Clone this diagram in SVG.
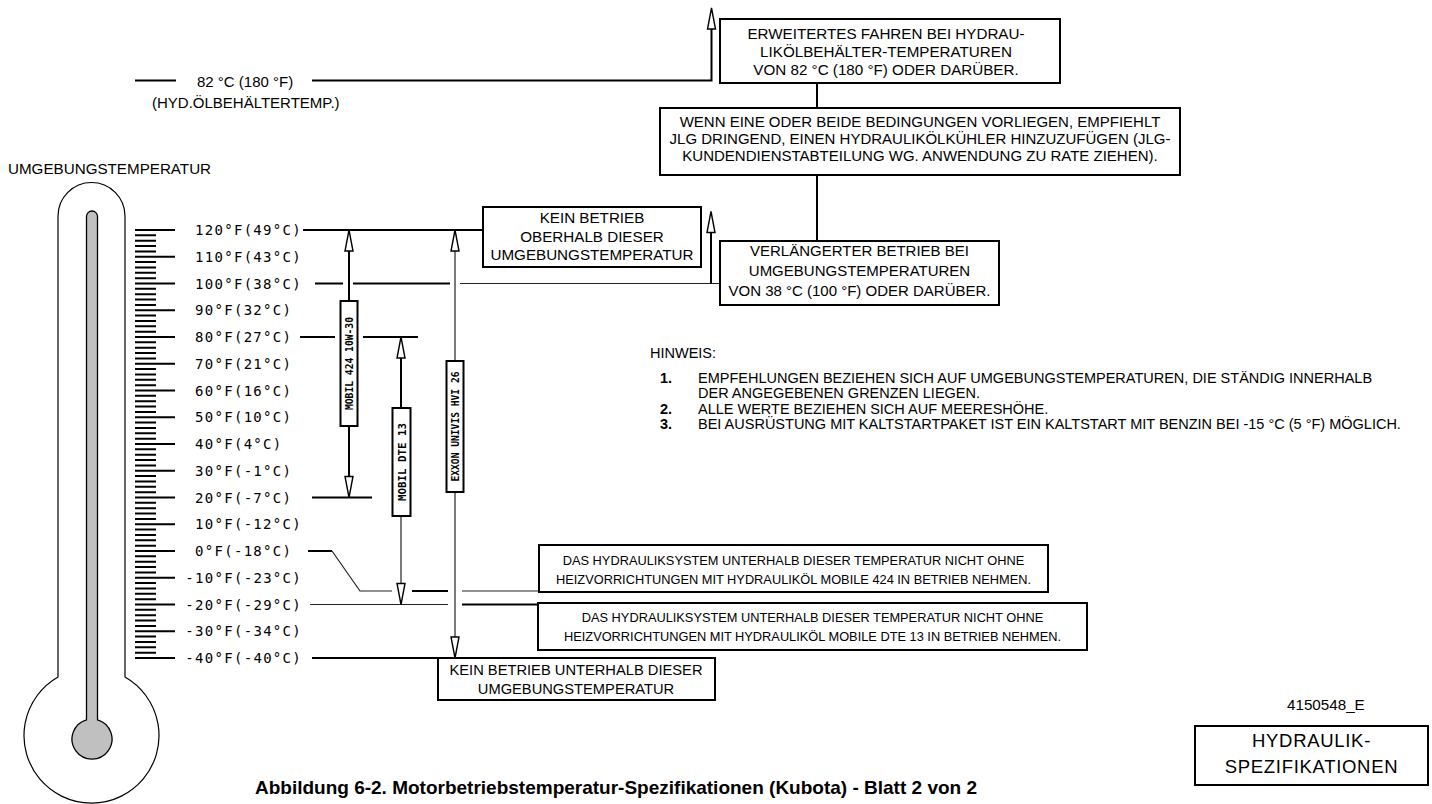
<svg xmlns="http://www.w3.org/2000/svg" width="1432" height="804" viewBox="0 0 1432 804">
<style>
  text { font-family: "Liberation Sans", Arial, Helvetica, sans-serif; fill: #000; }
  .c { text-anchor: middle; }
  .f15 { font-size: 15px; }
  .f13 { font-size: 12.8px; }
  .note { font-size: 14.5px; }
  .num { font-weight: bold; }
  .title { font-size: 19px; font-weight: bold; text-anchor: middle; }
  .big { font-size: 18.5px; letter-spacing: 0.7px; text-anchor: middle; }
  .sc { font-family: "DejaVu Sans Mono", monospace; font-size: 14px; letter-spacing: 1.3px; }
  .oil { font-family: "DejaVu Sans Mono", monospace; font-size: 11px; font-weight: bold; text-anchor: middle; }
  .box { fill: #fff; stroke: #000; stroke-width: 2; }
  .thick { stroke: #000; stroke-width: 2; fill: none; }
  .thin { stroke: #222; stroke-width: 1.2; fill: none; }
  .ah { fill: #fff; stroke: #000; stroke-width: 1.4; }
  .glass { fill: #fff; stroke: #000; stroke-width: 1.2; }
  .mercury { fill: #c0c0c0; stroke: #000; stroke-width: 1.3; }
  .tick { stroke: #000; stroke-width: 2; fill: none; }
</style>
<defs>
  <!-- open arrowheads, tip at the origin -->
  <path id="ahUp" class="ah" d="M0,0 L-4,21 L4,21 Z"/>
  <path id="ahDown" class="ah" d="M0,0 L-4,-21 L4,-21 Z"/>
</defs>

<rect x="0" y="0" width="1432" height="804" fill="#fff"/>

<!-- thermometer -->
<g id="thermometer">
  <text x="8" y="173.5" style="font-size:15.2px">UMGEBUNGSTEMPERATUR</text>
  <path class="glass" d="M58,677 V216 A33.5,33.5 0 0 1 125,216 V677 A67.5,67.5 0 1 1 58,677 Z"/>
  <path class="mercury" d="M86.5,719.8 V216.5 A5.5,5.5 0 0 1 97.5,216.5 V719.8 A20,20 0 1 1 86.5,719.8 Z"/>
</g>

<!-- scale: minor tick every 2 °F, major tick every 10 °F -->
<g id="scale">
  <path class="tick" d="M135,230H175 M135,235.35H156 M135,240.7H156 M135,246.05H156 M135,251.4H156
    M135,256.75H175 M135,262.1H156 M135,267.45H156 M135,272.8H156 M135,278.15H156
    M135,283.5H175 M135,288.85H156 M135,294.2H156 M135,299.55H156 M135,304.9H156
    M135,310.25H175 M135,315.6H156 M135,320.95H156 M135,326.3H156 M135,331.65H156
    M135,337H175 M135,342.35H156 M135,347.7H156 M135,353.05H156 M135,358.4H156
    M135,363.75H175 M135,369.1H156 M135,374.45H156 M135,379.8H156 M135,385.15H156
    M135,390.5H175 M135,395.85H156 M135,401.2H156 M135,406.55H156 M135,411.9H156
    M135,417.25H175 M135,422.6H156 M135,427.95H156 M135,433.3H156 M135,438.65H156
    M135,444H175 M135,449.35H156 M135,454.7H156 M135,460.05H156 M135,465.4H156
    M135,470.75H175 M135,476.1H156 M135,481.45H156 M135,486.8H156 M135,492.15H156
    M135,497.5H175 M135,502.85H156 M135,508.2H156 M135,513.55H156 M135,518.9H156
    M135,524.25H175 M135,529.6H156 M135,534.95H156 M135,540.3H156 M135,545.65H156
    M135,551H175 M135,556.35H156 M135,561.7H156 M135,567.05H156 M135,572.4H156
    M135,577.75H175 M135,583.1H156 M135,588.45H156 M135,593.8H156 M135,599.15H156
    M135,604.5H175 M135,609.85H156 M135,615.2H156 M135,620.55H156 M135,625.9H156
    M135,631.25H175 M135,636.6H156 M135,641.95H156 M135,647.3H156 M135,652.65H156
    M135,658H175"/>
  <text class="sc" x="195" y="235">120°F(49°C)</text>
  <text class="sc" x="195" y="261.75">110°F(43°C)</text>
  <text class="sc" x="195" y="288.5">100°F(38°C)</text>
  <text class="sc" x="195" y="315.25">90°F(32°C)</text>
  <text class="sc" x="195" y="342">80°F(27°C)</text>
  <text class="sc" x="195" y="368.75">70°F(21°C)</text>
  <text class="sc" x="195" y="395.5">60°F(16°C)</text>
  <text class="sc" x="195" y="422.25">50°F(10°C)</text>
  <text class="sc" x="195" y="449">40°F(4°C)</text>
  <text class="sc" x="195" y="475.75">30°F(-1°C)</text>
  <text class="sc" x="195" y="502.5">20°F(-7°C)</text>
  <text class="sc" x="195" y="529.25">10°F(-12°C)</text>
  <text class="sc" x="195" y="556">0°F(-18°C)</text>
  <text class="sc" x="185.3" y="582.75">-10°F(-23°C)</text>
  <text class="sc" x="185.3" y="609.5">-20°F(-29°C)</text>
  <text class="sc" x="185.3" y="636.25">-30°F(-34°C)</text>
  <text class="sc" x="185.3" y="663">-40°F(-40°C)</text>
</g>

<!-- connectors -->
<g id="connectors">
  <!-- 82 °C tank line and arrow up -->
  <path class="thick" d="M135,80.5H176 M312,80.5H711.5 V28"/>
  <use href="#ahUp" x="711.5" y="8"/>
  <!-- box chain -->
  <path class="thick" d="M817,83V108 M817,175V241"/>
  <!-- 120 °F -->
  <path class="thick" d="M303,230H483"/>
  <!-- 100 °F -->
  <path class="thick" d="M315,283.5H343 M353,283.5H450"/>
  <path class="thin" d="M460,283.5H720"/>
  <path class="thick" d="M711,283.5V232"/>
  <use href="#ahUp" x="711" y="211.5"/>
  <!-- 80 °F -->
  <path class="thick" d="M300,337H335 M363,337H418"/>
  <!-- 20 °F -->
  <path class="thick" d="M312,497.5H372"/>
  <!-- 0 °F -->
  <path class="thick" d="M308,551H332 M412,591H448"/>
  <path class="thin" d="M332,551L360,591H392 M462,591H539"/>
  <!-- -20 °F -->
  <path class="thin" d="M310,604.5H448"/>
  <path class="thick" d="M462,604.5H538"/>
  <!-- -40 °F -->
  <path class="thick" d="M312,658H438"/>

  <!-- MOBIL 424 range -->
  <path class="thick" d="M349,251V301 M349,426V477"/>
  <use href="#ahUp" x="349" y="230"/>
  <use href="#ahDown" x="349" y="497.5"/>
  <!-- MOBIL DTE 13 range -->
  <path class="thick" d="M401,357V408"/>
  <path class="thin" d="M401,516V584"/>
  <use href="#ahUp" x="401" y="337"/>
  <use href="#ahDown" x="401" y="604.5"/>
  <!-- EXXON UNIVIS HVI 26 range -->
  <path class="thin" d="M455,251V361 M455,492V638"/>
  <use href="#ahUp" x="455" y="230"/>
  <use href="#ahDown" x="455" y="658"/>
</g>

<!-- oil labels -->
<g id="oil-mobil-424">
  <rect class="box" x="340.5" y="301" width="17" height="125"/>
  <text class="oil" transform="translate(349,363.5) rotate(-90)" y="4" textLength="93" lengthAdjust="spacingAndGlyphs">MOBIL 424 10W-30</text>
</g>
<g id="oil-mobil-dte13">
  <rect class="box" x="392.5" y="408" width="18" height="108"/>
  <text class="oil" transform="translate(401.5,462) rotate(-90)" y="4" textLength="78" lengthAdjust="spacingAndGlyphs">MOBIL DTE 13</text>
</g>
<g id="oil-exxon">
  <rect class="box" x="446.5" y="361" width="17" height="131"/>
  <text class="oil" transform="translate(455,426.5) rotate(-90)" y="4" textLength="110" lengthAdjust="spacingAndGlyphs">EXXON UNIVIS HVI 26</text>
</g>

<!-- tank temperature label -->
<g id="tank-temp">
  <text class="f15" x="197" y="87">82 °C (180 °F)</text>
  <text class="f15" x="152" y="108">(HYD.ÖLBEHÄLTERTEMP.)</text>
</g>

<!-- boxes -->
<g id="box-extended-drive">
  <rect class="box" x="720" y="19" width="340" height="64"/>
  <text class="f15 c" x="886" y="38.5" style="font-size:15.2px">ERWEITERTES FAHREN BEI HYDRAU-</text>
  <text class="f15 c" x="886" y="56.8" style="font-size:15.2px">LIKÖLBEHÄLTER-TEMPERATUREN</text>
  <text class="f15 c" x="886" y="75" style="font-size:15.2px">VON 82 °C (180 °F) ODER DARÜBER.</text>
</g>

<g id="box-cooler">
  <rect class="box" x="660" y="108" width="520" height="67"/>
  <text class="f15 c" x="920" y="127">WENN EINE ODER BEIDE BEDINGUNGEN VORLIEGEN, EMPFIEHLT</text>
  <text class="f15 c" x="920" y="143.7">JLG DRINGEND, EINEN HYDRAULIKÖLKÜHLER HINZUZUFÜGEN (JLG-</text>
  <text class="f15 c" x="920" y="160.5">KUNDENDIENSTABTEILUNG WG. ANWENDUNG ZU RATE ZIEHEN).</text>
</g>

<g id="box-no-operation-above">
  <rect class="box" x="483" y="207" width="218" height="60"/>
  <text class="f15 c" x="592" y="223.3" style="font-size:15.2px">KEIN BETRIEB</text>
  <text class="f15 c" x="592" y="241.7" style="font-size:15.2px">OBERHALB DIESER</text>
  <text class="f15 c" x="592" y="260" style="font-size:15.2px">UMGEBUNGSTEMPERATUR</text>
</g>

<g id="box-extended-operation">
  <rect class="box" x="720" y="241" width="279" height="64"/>
  <text class="f15 c" x="859.5" y="256">VERLÄNGERTER BETRIEB BEI</text>
  <text class="f15 c" x="859.5" y="276">UMGEBUNGSTEMPERATUREN</text>
  <text class="f15 c" x="859.5" y="296">VON 38 °C (100 °F) ODER DARÜBER.</text>
</g>

<g id="box-mobile-424">
  <rect class="box" x="539" y="545" width="509" height="47"/>
  <text class="f13 c" x="793.5" y="565">DAS HYDRAULIKSYSTEM UNTERHALB DIESER TEMPERATUR NICHT OHNE</text>
  <text class="f13 c" x="793.5" y="584">HEIZVORRICHTUNGEN MIT HYDRAULIKÖL MOBILE 424 IN BETRIEB NEHMEN.</text>
</g>

<g id="box-mobile-dte13">
  <rect class="box" x="538" y="603" width="549" height="47"/>
  <text class="f13 c" x="812.5" y="622">DAS HYDRAULIKSYSTEM UNTERHALB DIESER TEMPERATUR NICHT OHNE</text>
  <text class="f13 c" x="812.5" y="641">HEIZVORRICHTUNGEN MIT HYDRAULIKÖL MOBILE DTE 13 IN BETRIEB NEHMEN.</text>
</g>

<g id="box-no-operation-below">
  <rect class="box" x="438" y="658" width="277" height="42"/>
  <text class="c" x="576" y="675" style="font-size:14.7px">KEIN BETRIEB UNTERHALB DIESER</text>
  <text class="c" x="576" y="693.5" style="font-size:14.7px">UMGEBUNGSTEMPERATUR</text>
</g>

<!-- notes -->
<g id="notes">
  <text class="note" x="650" y="358">HINWEIS:</text>
  <text class="note num" x="660" y="383">1.</text>
  <text class="note" x="698" y="383">EMPFEHLUNGEN BEZIEHEN SICH AUF UMGEBUNGSTEMPERATUREN, DIE STÄNDIG INNERHALB</text>
  <text class="note" x="698" y="398">DER ANGEGEBENEN GRENZEN LIEGEN.</text>
  <text class="note num" x="660" y="414">2.</text>
  <text class="note" x="698" y="414">ALLE WERTE BEZIEHEN SICH AUF MEERESHÖHE.</text>
  <text class="note num" x="660" y="429">3.</text>
  <text class="note" x="698" y="429">BEI AUSRÜSTUNG MIT KALTSTARTPAKET IST EIN KALTSTART MIT BENZIN BEI -15 °C (5 °F) MÖGLICH.</text>
</g>

<!-- drawing number and section tag -->
<g id="drawing-number">
  <text x="1287" y="710" style="font-size:15.2px">4150548_E</text>
</g>
<g id="section-tag">
  <rect class="box" x="1195" y="726" width="233" height="59"/>
  <text class="big" x="1311.5" y="746.7">HYDRAULIK-</text>
  <text class="big" x="1311.5" y="772.7">SPEZIFIKATIONEN</text>
</g>

<!-- caption -->
<g id="caption">
  <text class="title" x="616" y="794">Abbildung 6-2. Motorbetriebstemperatur-Spezifikationen (Kubota) - Blatt 2 von 2</text>
</g>
</svg>
